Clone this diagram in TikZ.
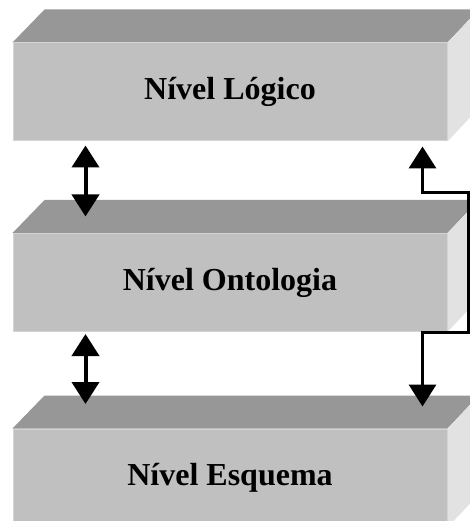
\documentclass[tikz,border=0pt]{standalone}
\usepackage{fontspec}
\setmainfont{Liberation Serif}
\usetikzlibrary{arrows.meta,calc}
\definecolor{topc}{HTML}{979797}
\definecolor{frontc}{HTML}{C0C0C0}
\definecolor{sidec}{HTML}{E2E2E2}
\definecolor{edgec}{HTML}{D4D4D4}
\tikzset{
  front/.style={rectangle, fill=frontc, draw=edgec, line width=1pt, minimum width=434pt, minimum height=98pt, inner sep=0pt, font=\fontsize{32}{38}\selectfont\bfseries, text=black},
  topface/.style={fill=topc},
  sideface/.style={fill=sidec},
  dbl/.style={line width=4pt, {Triangle[width=27pt,length=22pt]}-{Triangle[width=27pt,length=22pt]}},
}
\newcommand{\cuboid}[1]{%
  \fill[topface] (#1.north west) -- ++(32,-33) -- ++(434,0) -- (#1.north east) -- cycle;
  \fill[sideface] (#1.north east) -- ++(32,-33) -- ++(0,98) -- (#1.south east) -- cycle;
}
\begin{document}
\begin{tikzpicture}[x=1pt,y=-1pt]
\useasboundingbox (0,0) rectangle (470,521);
\clip (0,0) rectangle (470,521);
\node[front] (L) at (230,92) {Nível Lógico};
\node[front] (O) at (230,282.5) {Nível Ontologia};
\node[front] (E) at (230,478) {Nível Esquema};
\cuboid{L}
\cuboid{O}
\cuboid{E}
\node[front] at (L) {Nível Lógico};
\node[front] at (O) {Nível Ontologia};
\node[front] at (E) {Nível Esquema};
% left double arrows
\coordinate (a1) at ($(L.south west)+(73,4)$);
\coordinate (a2) at ($(a1)+(0,71)$);
\coordinate (b1) at ($(O.south west)+(73,2)$);
\coordinate (b2) at ($(b1)+(0,70)$);
\draw[dbl] (a1) -- (a2);
\draw[dbl] (b1) -- (b2);
% right connector
\coordinate (r1) at ($(L.south east)+(-25,5)$);
\coordinate (r2) at ($(E.north east)+(-25,-22)$);
\draw[dbl, line width=3.5pt, line join=miter] (r1) -- ++(0,46) -- ++(46,0) |- ($(r2)+(0,-74)$) -- (r2);
\end{tikzpicture}
\end{document}
